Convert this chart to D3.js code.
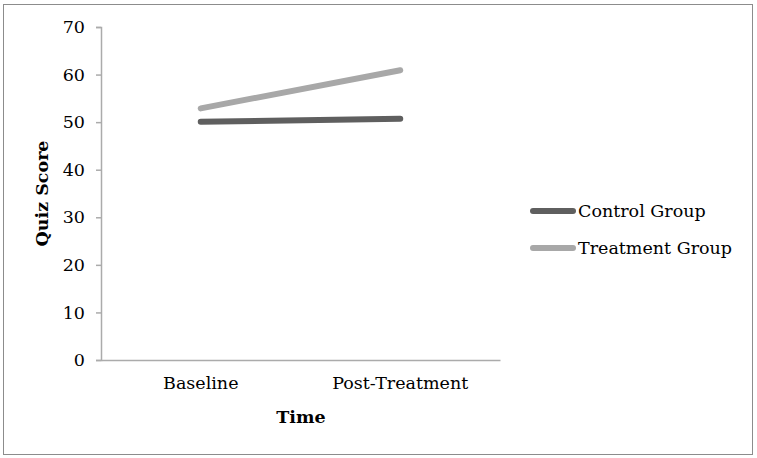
<!DOCTYPE html>
<html>
<head>
<meta charset="utf-8">
<script src="https://cdn.jsdelivr.net/npm/d3@7"></script>
<style>
  body { margin: 0; background: #fff; }
  text { font-family: "DejaVu Serif", serif; fill: #000; }
</style>
</head>
<body>
<div id="chart-area"></div>
<script>
const WIDTH = 757
const HEIGHT = 458
const MARGIN = { LEFT: 101, RIGHT: 257, TOP: 27, BOTTOM: 98 }
const FONT = "DejaVu Serif"
const FONT_SIZE = "17.5px"

// data
const categories = ["Baseline", "Post-Treatment"]
const seriesNames = ["Control Group", "Treatment Group"]
const controlValues = [50.1, 50.7]
const treatmentValues = [52.9, 60.9]
const yTicks = [0, 10, 20, 30, 40, 50, 60, 70]
const seriesColors = ["#5f5f5f", "#a8a8a8"]

const series = [controlValues, treatmentValues]

const svg = d3.select("#chart-area").append("svg")
  .attr("width", WIDTH)
  .attr("height", HEIGHT)

// outer frame
svg.append("rect")
  .attr("x", 3.5).attr("y", 4.5)
  .attr("width", 749).attr("height", 450)
  .attr("fill", "none")
  .attr("stroke", "#8c8c8c")
  .attr("stroke-width", 1)

const x = d3.scaleBand()
  .domain(categories)
  .range([MARGIN.LEFT, WIDTH - MARGIN.RIGHT])

const y = d3.scaleLinear()
  .domain([0, 70])
  .range([HEIGHT - MARGIN.BOTTOM, MARGIN.TOP])

// y axis
const yAxis = svg.append("g")
  .attr("transform", `translate(${MARGIN.LEFT},0)`)
  .call(d3.axisLeft(y).tickValues(yTicks).tickSize(5).tickPadding(11))
yAxis.select(".domain").attr("stroke", "#ababab").attr("stroke-width", 1.5)
yAxis.selectAll(".tick line").attr("stroke", "#ababab").attr("stroke-width", 1.5)
yAxis.selectAll(".tick text").attr("font-size", FONT_SIZE).attr("font-family", FONT)

// x axis
const xAxis = svg.append("g")
  .attr("transform", `translate(0,${HEIGHT - MARGIN.BOTTOM})`)
  .call(d3.axisBottom(x).tickSize(0).tickPadding(17))
xAxis.select(".domain").attr("stroke", "#ababab").attr("stroke-width", 1.5)
xAxis.selectAll(".tick text").attr("font-size", FONT_SIZE).attr("font-family", FONT)

// axis titles
svg.append("text")
  .attr("x", 301)
  .attr("y", 423)
  .attr("text-anchor", "middle")
  .attr("font-size", FONT_SIZE)
  .attr("font-weight", "bold")
  .text("Time")

svg.append("text")
  .attr("transform", `translate(48, ${(y(0) + y(70)) / 2}) rotate(-90)`)
  .attr("text-anchor", "middle")
  .attr("font-size", FONT_SIZE)
  .attr("font-weight", "bold")
  .text("Quiz Score")

// lines
const line = d3.line()
  .x((d, i) => x(categories[i]) + x.bandwidth() / 2)
  .y(d => y(d))

svg.selectAll(".series")
  .data(series)
  .enter().append("path")
    .attr("class", "series")
    .attr("d", line)
    .attr("fill", "none")
    .attr("stroke", (d, i) => seriesColors[i])
    .attr("stroke-width", 6)
    .attr("stroke-linecap", "round")

// legend
const legend = svg.append("g")
  .attr("transform", "translate(533, 211)")

seriesNames.forEach((name, i) => {
  const row = legend.append("g")
    .attr("transform", `translate(0, ${i * 37})`)
  row.append("line")
    .attr("x1", 0).attr("x2", 40)
    .attr("y1", 0).attr("y2", 0)
    .attr("stroke", seriesColors[i])
    .attr("stroke-width", 6)
    .attr("stroke-linecap", "round")
  row.append("text")
    .attr("x", 45)
    .attr("y", 6)
    .attr("font-size", FONT_SIZE)
    .text(name)
})
</script>
</body>
</html>
